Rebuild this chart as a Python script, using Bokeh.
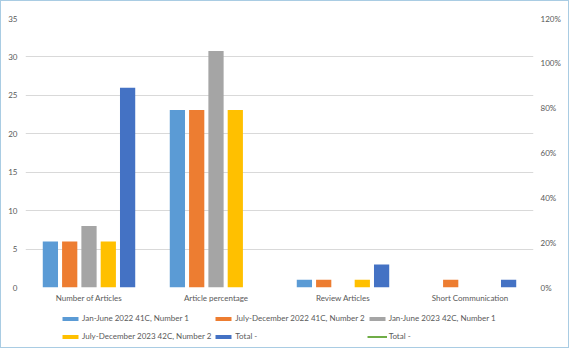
from bokeh.plotting import figure
from bokeh.layouts import column
from bokeh.models import (FactorRange, Range1d, LinearAxis, FixedTicker,
                          NumeralTickFormatter, Legend, LegendItem, ColumnDataSource)
from bokeh.transform import dodge
from bokeh.embed import file_html
from bokeh.resources import INLINE

nan = float("nan")

categories = ["Number of Articles", "Article percentage", "Review Articles", "Short Communication"]

series_labels = [
    "Jan-June 2022 41C, Number 1",
    "July-December 2022 41C, Number 2",
    "Jan-June 2023 42C, Number 1",
    "July-December 2023 42C, Number 2",
    "Total -",
]
line_label = "Total -"
jan_jun_2022 = [6, 23.08, 1, 0]
jul_dec_2022 = [6, 23.08, 1, 1]
jan_jun_2023 = [8, 30.77, 0, 0]
jul_dec_2023 = [6, 23.08, 1, 0]
total = [26, nan, 3, 1]
total_line = [nan, nan, nan, nan]   # secondary-axis series, empty

left_ticks = [0, 5, 10, 15, 20, 25, 30, 35]
right_ticks = [0, 0.2, 0.4, 0.6, 0.8, 1.0, 1.2]

colors = ["#5B9BD5", "#ED7D31", "#A5A5A5", "#FFC000", "#4472C4"]
line_color = "#70AD47"
text_color = "#595959"
grid_color = "#D9D9D9"
font = "Lato"
fsize = "8px"
W = 567

source = ColumnDataSource(dict(
    cat=categories, s1=jan_jun_2022, s2=jul_dec_2022, s3=jan_jun_2023,
    s4=jul_dec_2023, s5=total, line=total_line,
))

# ---- main chart ----
p = figure(
    width=W, height=308,
    x_range=FactorRange(*categories, range_padding=0),
    y_range=Range1d(0, 35),
    output_backend="svg", toolbar_location=None,
    min_border_left=24, min_border_right=35, min_border_top=17, min_border_bottom=22,
)
p.extra_y_ranges = {"pct": Range1d(0, 1.2)}
p.outline_line_color = None

step = 0.152
bar_w = 0.12
cols = ["s1", "s2", "s3", "s4", "s5"]
for i, col in enumerate(cols):
    p.vbar(x=dodge("cat", (i - 2) * step, range=p.x_range), top=col, width=bar_w,
           source=source, fill_color=colors[i], line_color=None)

p.line(x="cat", y="line", source=source, line_color=line_color, line_width=2,
       y_range_name="pct")

p.yaxis.ticker = FixedTicker(ticks=left_ticks)
right = LinearAxis(y_range_name="pct", ticker=FixedTicker(ticks=right_ticks),
                   formatter=NumeralTickFormatter(format="0%"))
p.add_layout(right, "right")

for ax in [p.yaxis[0], right, p.xaxis[0]]:
    ax.axis_line_color = None
    ax.major_tick_line_color = None
    ax.minor_tick_line_color = None
    ax.major_tick_out = 0
    ax.major_tick_in = 0
    ax.minor_tick_out = 0
    ax.minor_tick_in = 0
    ax.major_label_text_font = font
    ax.major_label_text_font_size = fsize
    ax.major_label_text_color = text_color
p.yaxis[0].major_label_standoff = 8
right.major_label_standoff = 7
p.xaxis[0].major_label_standoff = 5

p.xgrid.grid_line_color = None
p.ygrid.grid_line_color = grid_color
p.ygrid.grid_line_width = 1

# ---- legend strip: proxy renderers hold a single blank row so the keys draw ----
lg = figure(width=W, height=38, x_range=(0, 1), y_range=(0, 1),
            x_axis_type=None, y_axis_type=None, output_backend="svg",
            toolbar_location=None, min_border=0)
lg.outline_line_color = None
lg.grid.visible = False
blank = ColumnDataSource(dict(x=[nan], y=[nan]))
legend_renderers = [lg.vbar(x="x", top="y", width=0.1, source=blank,
                            fill_color=c, line_color=None) for c in colors]
legend_renderers.append(lg.line(x="x", y="y", source=blank,
                                line_color=line_color, line_width=2))
labels = series_labels + [line_label]
items = [LegendItem(label=lab, renderers=[r]) for lab, r in zip(labels, legend_renderers)]
legend = Legend(items=items, orientation="horizontal", ncols=3, location=(35, 3),
                glyph_width=20, glyph_height=5, label_standoff=2, label_width=126,
                label_height=16, spacing=2, padding=0, margin=0,
                label_text_font=font, label_text_font_size=fsize,
                label_text_color=text_color, border_line_color=None,
                background_fill_alpha=0)
lg.add_layout(legend, "center")

layout = column(p, lg, spacing=0)
layout.styles = {"border": "1px solid #A9CCE3"}

open("out.html", "w").write(file_html(layout, INLINE))
